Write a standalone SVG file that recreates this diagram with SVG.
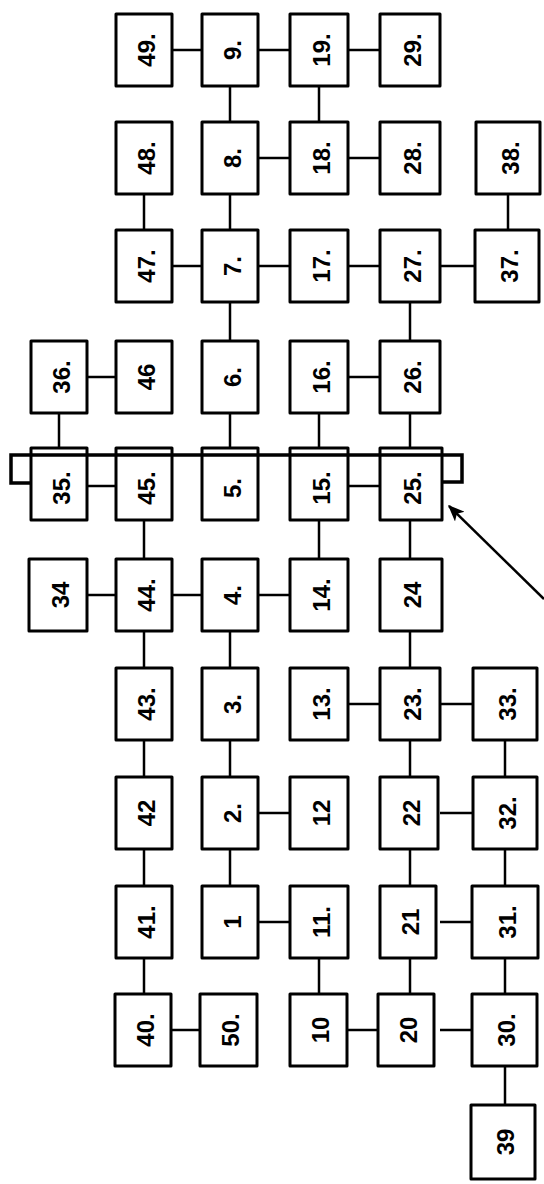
<svg xmlns="http://www.w3.org/2000/svg" width="544" height="1184" viewBox="0 0 544 1184">
<style>
.box{fill:#fff;stroke:#000;stroke-width:3;stroke-linejoin:round}
.lbl{font-family:"Liberation Sans","DejaVu Sans",sans-serif;font-size:24px;font-weight:bold;fill:#000;text-anchor:middle;dominant-baseline:central}
.con line,.con path{stroke:#000;stroke-width:2.5;fill:none}
</style>
<defs>
<marker id="ah" viewBox="0 0 12 10" refX="11" refY="5" markerWidth="7.5" markerHeight="5.5" orient="auto" markerUnits="strokeWidth">
<path d="M0,0 L12,5 L0,10 L3,5 z" fill="#000"/>
</marker>
</defs>
<rect width="544" height="1184" fill="#fff"/>
<g id="connectors" class="con">
<line x1="172" y1="50" x2="202" y2="50"/>
<line x1="258" y1="50" x2="290" y2="50"/>
<line x1="348" y1="50" x2="380" y2="50"/>
<line x1="258" y1="158" x2="290" y2="158"/>
<line x1="348" y1="158" x2="380" y2="158"/>
<line x1="172" y1="266" x2="202" y2="266"/>
<line x1="258" y1="266" x2="290" y2="266"/>
<line x1="348" y1="266" x2="380" y2="266"/>
<line x1="440" y1="266" x2="475" y2="266"/>
<line x1="87" y1="377" x2="116" y2="377"/>
<line x1="348" y1="377" x2="380" y2="377"/>
<line x1="87" y1="486" x2="116" y2="486"/>
<line x1="348" y1="486" x2="380" y2="486"/>
<line x1="87" y1="595" x2="116" y2="595"/>
<line x1="172" y1="595" x2="202" y2="595"/>
<line x1="258" y1="595" x2="290" y2="595"/>
<line x1="348" y1="704" x2="380" y2="704"/>
<line x1="440" y1="704" x2="473" y2="704"/>
<line x1="258" y1="813" x2="290" y2="813"/>
<line x1="440" y1="813" x2="473" y2="813"/>
<line x1="258" y1="922" x2="290" y2="922"/>
<line x1="440" y1="922" x2="473" y2="922"/>
<line x1="172" y1="1030" x2="202" y2="1030"/>
<line x1="348" y1="1030" x2="380" y2="1030"/>
<line x1="440" y1="1030" x2="473" y2="1030"/>
<line x1="59" y1="413" x2="59" y2="448"/>
<line x1="144" y1="194" x2="144" y2="230"/>
<line x1="144" y1="520" x2="144" y2="559"/>
<line x1="144" y1="631" x2="144" y2="668"/>
<line x1="144" y1="740" x2="144" y2="777"/>
<line x1="144" y1="849" x2="144" y2="886"/>
<line x1="144" y1="958" x2="144" y2="994"/>
<line x1="230" y1="86" x2="230" y2="122"/>
<line x1="230" y1="194" x2="230" y2="230"/>
<line x1="230" y1="302" x2="230" y2="341"/>
<line x1="230" y1="413" x2="230" y2="448"/>
<line x1="230" y1="631" x2="230" y2="668"/>
<line x1="230" y1="740" x2="230" y2="777"/>
<line x1="230" y1="849" x2="230" y2="886"/>
<line x1="319" y1="86" x2="319" y2="122"/>
<line x1="319" y1="413" x2="319" y2="448"/>
<line x1="319" y1="520" x2="319" y2="559"/>
<line x1="319" y1="958" x2="319" y2="994"/>
<line x1="410" y1="302" x2="410" y2="341"/>
<line x1="410" y1="413" x2="410" y2="448"/>
<line x1="410" y1="520" x2="410" y2="559"/>
<line x1="410" y1="631" x2="410" y2="668"/>
<line x1="410" y1="740" x2="410" y2="777"/>
<line x1="410" y1="849" x2="410" y2="886"/>
<line x1="410" y1="958" x2="410" y2="994"/>
<line x1="508" y1="194" x2="508" y2="230"/>
<line x1="505" y1="740" x2="505" y2="777"/>
<line x1="505" y1="849" x2="505" y2="886"/>
<line x1="505" y1="958" x2="505" y2="994"/>
<line x1="505" y1="1066" x2="505" y2="1105"/>
</g>
<g id="n49"><rect class="box" x="116" y="14" width="56" height="72"/><text class="lbl" transform="translate(146 50) rotate(-90)">49.</text></g>
<g id="n9"><rect class="box" x="202" y="14" width="56" height="72"/><text class="lbl" transform="translate(232 50) rotate(-90)">9.</text></g>
<g id="n19"><rect class="box" x="290" y="14" width="58" height="72"/><text class="lbl" transform="translate(321 50) rotate(-90)">19.</text></g>
<g id="n29"><rect class="box" x="380" y="14" width="60" height="72"/><text class="lbl" transform="translate(412 50) rotate(-90)">29.</text></g>
<g id="n48"><rect class="box" x="116" y="122" width="56" height="72"/><text class="lbl" transform="translate(146 158) rotate(-90)">48.</text></g>
<g id="n8"><rect class="box" x="202" y="122" width="56" height="72"/><text class="lbl" transform="translate(232 158) rotate(-90)">8.</text></g>
<g id="n18"><rect class="box" x="290" y="122" width="58" height="72"/><text class="lbl" transform="translate(321 158) rotate(-90)">18.</text></g>
<g id="n28"><rect class="box" x="380" y="122" width="60" height="72"/><text class="lbl" transform="translate(412 158) rotate(-90)">28.</text></g>
<g id="n38"><rect class="box" x="476" y="122" width="64" height="72"/><text class="lbl" transform="translate(510 158) rotate(-90)">38.</text></g>
<g id="n47"><rect class="box" x="116" y="230" width="56" height="72"/><text class="lbl" transform="translate(146 266) rotate(-90)">47.</text></g>
<g id="n7"><rect class="box" x="202" y="230" width="56" height="72"/><text class="lbl" transform="translate(232 266) rotate(-90)">7.</text></g>
<g id="n17"><rect class="box" x="290" y="230" width="58" height="72"/><text class="lbl" transform="translate(321 266) rotate(-90)">17.</text></g>
<g id="n27"><rect class="box" x="380" y="230" width="60" height="72"/><text class="lbl" transform="translate(412 266) rotate(-90)">27.</text></g>
<g id="n37"><rect class="box" x="475" y="230" width="64" height="72"/><text class="lbl" transform="translate(509 266) rotate(-90)">37.</text></g>
<g id="n36"><rect class="box" x="31" y="341" width="56" height="72"/><text class="lbl" transform="translate(61 377) rotate(-90)">36.</text></g>
<g id="n46"><rect class="box" x="116" y="341" width="56" height="72"/><text class="lbl" transform="translate(146 377) rotate(-90)">46</text></g>
<g id="n6"><rect class="box" x="202" y="341" width="56" height="72"/><text class="lbl" transform="translate(232 377) rotate(-90)">6.</text></g>
<g id="n16"><rect class="box" x="290" y="341" width="58" height="72"/><text class="lbl" transform="translate(321 377) rotate(-90)">16.</text></g>
<g id="n26"><rect class="box" x="380" y="341" width="60" height="72"/><text class="lbl" transform="translate(412 377) rotate(-90)">26.</text></g>
<g id="n35"><rect class="box" x="31" y="448" width="56" height="72"/><text class="lbl" transform="translate(61 488) rotate(-90)">35.</text></g>
<g id="n45"><rect class="box" x="116" y="448" width="56" height="72"/><text class="lbl" transform="translate(146 488) rotate(-90)">45.</text></g>
<g id="n5"><rect class="box" x="202" y="448" width="56" height="72"/><text class="lbl" transform="translate(232 488) rotate(-90)">5.</text></g>
<g id="n15"><rect class="box" x="290" y="448" width="58" height="72"/><text class="lbl" transform="translate(321 488) rotate(-90)">15.</text></g>
<g id="n25"><rect class="box" x="380" y="448" width="62" height="72"/><text class="lbl" transform="translate(412 488) rotate(-90)">25.</text></g>
<g id="n34"><rect class="box" x="29" y="559" width="58" height="72"/><text class="lbl" transform="translate(60 595) rotate(-90)">34</text></g>
<g id="n44"><rect class="box" x="116" y="559" width="56" height="72"/><text class="lbl" transform="translate(146 595) rotate(-90)">44.</text></g>
<g id="n4"><rect class="box" x="202" y="559" width="56" height="72"/><text class="lbl" transform="translate(232 595) rotate(-90)">4.</text></g>
<g id="n14"><rect class="box" x="290" y="559" width="58" height="72"/><text class="lbl" transform="translate(321 595) rotate(-90)">14.</text></g>
<g id="n24"><rect class="box" x="380" y="559" width="62" height="72"/><text class="lbl" transform="translate(412 595) rotate(-90)">24</text></g>
<g id="n43"><rect class="box" x="116" y="668" width="56" height="72"/><text class="lbl" transform="translate(146 704) rotate(-90)">43.</text></g>
<g id="n3"><rect class="box" x="202" y="668" width="56" height="72"/><text class="lbl" transform="translate(232 704) rotate(-90)">3.</text></g>
<g id="n13"><rect class="box" x="290" y="668" width="58" height="72"/><text class="lbl" transform="translate(321 704) rotate(-90)">13.</text></g>
<g id="n23"><rect class="box" x="380" y="668" width="60" height="72"/><text class="lbl" transform="translate(412 704) rotate(-90)">23.</text></g>
<g id="n33"><rect class="box" x="473" y="668" width="64" height="72"/><text class="lbl" transform="translate(507 704) rotate(-90)">33.</text></g>
<g id="n42"><rect class="box" x="116" y="777" width="56" height="72"/><text class="lbl" transform="translate(146 813) rotate(-90)">42</text></g>
<g id="n2"><rect class="box" x="202" y="777" width="56" height="72"/><text class="lbl" transform="translate(232 813) rotate(-90)">2.</text></g>
<g id="n12"><rect class="box" x="290" y="777" width="58" height="72"/><text class="lbl" transform="translate(321 813) rotate(-90)">12</text></g>
<g id="n22"><rect class="box" x="380" y="777" width="58" height="72"/><text class="lbl" transform="translate(411 813) rotate(-90)">22</text></g>
<g id="n32"><rect class="box" x="473" y="777" width="64" height="72"/><text class="lbl" transform="translate(507 813) rotate(-90)">32.</text></g>
<g id="n41"><rect class="box" x="116" y="886" width="56" height="72"/><text class="lbl" transform="translate(146 922) rotate(-90)">41.</text></g>
<g id="n1"><rect class="box" x="202" y="886" width="56" height="72"/><text class="lbl" transform="translate(232 922) rotate(-90)">1</text></g>
<g id="n11"><rect class="box" x="290" y="886" width="58" height="72"/><text class="lbl" transform="translate(321 922) rotate(-90)">11.</text></g>
<g id="n21"><rect class="box" x="380" y="886" width="56" height="72"/><text class="lbl" transform="translate(410 922) rotate(-90)">21</text></g>
<g id="n31"><rect class="box" x="472" y="886" width="66" height="72"/><text class="lbl" transform="translate(507 922) rotate(-90)">31.</text></g>
<g id="n40"><rect class="box" x="115" y="994" width="56" height="72"/><text class="lbl" transform="translate(145 1030) rotate(-90)">40.</text></g>
<g id="n50"><rect class="box" x="200" y="994" width="57" height="72"/><text class="lbl" transform="translate(230 1030) rotate(-90)">50.</text></g>
<g id="n10"><rect class="box" x="290" y="994" width="57" height="72"/><text class="lbl" transform="translate(320 1030) rotate(-90)">10</text></g>
<g id="n20"><rect class="box" x="378" y="994" width="56" height="72"/><text class="lbl" transform="translate(408 1030) rotate(-90)">20</text></g>
<g id="n30"><rect class="box" x="472" y="994" width="65" height="72"/><text class="lbl" transform="translate(506 1030) rotate(-90)">30.</text></g>
<g id="n39"><rect class="box" x="471" y="1105" width="64" height="74"/><text class="lbl" transform="translate(505 1142) rotate(-90)">39</text></g>
<g id="bracket" class="con">
<path d="M32,483 H11 V455 H462 V482 H442" style="stroke-width:3.5"/>
</g>
<g id="arrow" class="con">
<line x1="544" y1="599" x2="449" y2="506" marker-end="url(#ah)"/>
</g>
</svg>
